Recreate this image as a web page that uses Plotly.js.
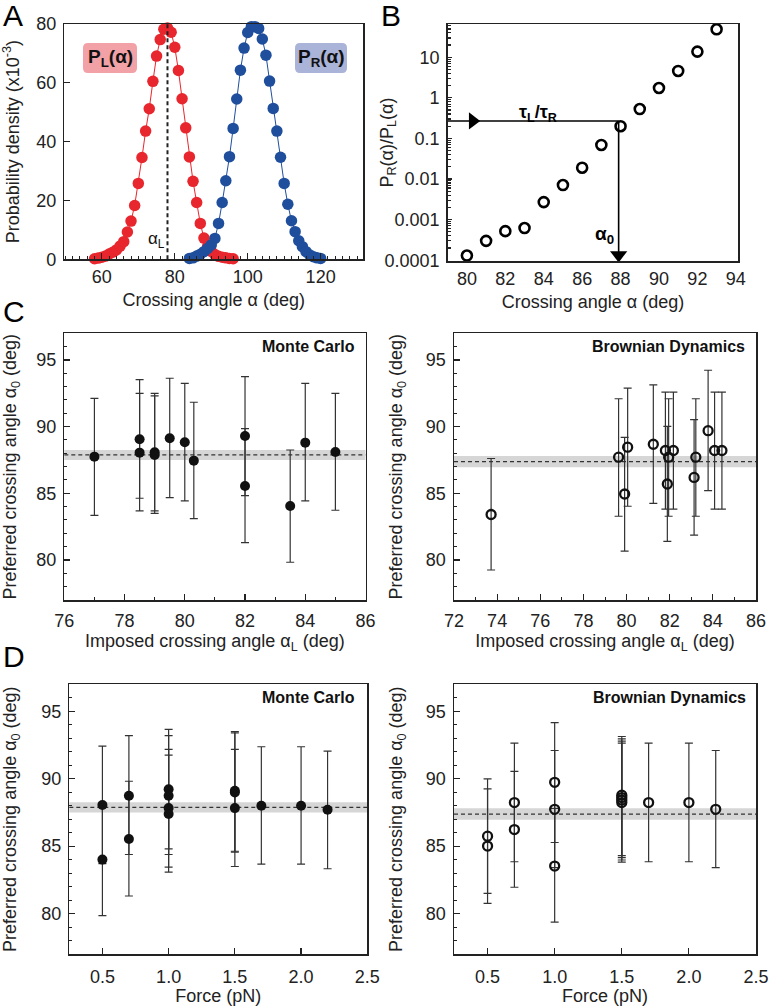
<!DOCTYPE html>
<html>
<head>
<meta charset="utf-8">
<script src="https://cdn.plot.ly/plotly-3.0.1.min.js"></script>
<style>html,body{margin:0;padding:0;background:#fff;}#chart{width:769px;height:1006px;}</style>
</head>
<body>
<div id="chart"></div>
<script>
// ---------- Panel A : probability densities (x10^-3) ----------
const redAngle  = [58,59,60,61,62,63,64,65,66,67,68,69,70,71,72,73,74,75,76,77,78,79,80,81,82,83,84,85,86,87,88,89,90,91,92,93,94,95,96];
const redDens   = [0.2,0.4,0.7,1.1,1.8,2.4,3.2,4.5,6.0,9.3,13.0,18.3,25.8,34.6,43.6,51.2,60.5,69.1,74.7,78.2,78.6,77.2,72.1,64.2,54.6,44.7,34.8,26.5,19.3,12.2,7.2,4.3,2.7,1.6,1.0,0.7,0.5,0.3,0.2];
const blueAngle = [84,85,86,87,88,89,90,91,92,93,94,95,96,97,98,99,100,101,102,103,104,105,106,107,108,109,110,111,112,113,114,115,116,117,118,119,120];
const blueDens  = [0.3,0.5,1.1,1.7,2.6,3.7,4.9,7.1,12.2,19.3,26.7,34.9,44.5,54.5,64.3,71.8,77.1,79.1,79.1,78.5,74.9,69.4,60.6,51.3,43.6,34.7,25.8,18.7,13.1,9.4,6.3,4.3,2.6,1.5,0.9,0.5,0.3];
const alphaL = 78;

// ---------- Panel B : ratio P_R/P_L ----------
const ratioAngle = [80,81,82,83,84,85,86,87,88,89,90,91,92,93];
const ratioValue = [0.00013,0.0003,0.00052,0.00062,0.0027,0.0071,0.019,0.069,0.2,0.53,1.75,4.6,13.8,49];
const tauRatio = 0.27;
const alpha0 = 87.9;
const bTickVals = [0.0001,0.001,0.01,0.1,1,10];
const bTickText = ['0.0001','0.001','0.01','0.1','1','10'];

// ---------- Panel C left : Monte Carlo vs imposed angle ----------
const cMC_x  = [77.0,78.5,78.5,79.0,79.0,79.5,80.0,80.3,82.0,82.0,83.5,84.0,85.0];
const cMC_y  = [87.75,89.05,88.05,88.08,87.88,89.13,88.83,87.45,89.3,85.55,84.05,88.8,88.1];
const cMC_hi = [92.12,93.53,92.5,92.5,92.3,93.63,93.25,91.83,93.75,89.85,88.25,93.25,92.5];
const cMC_lo = [83.35,84.63,83.68,83.68,83.5,84.68,84.43,83.1,84.83,81.3,79.83,84.43,83.73];

// ---------- Panel C right : Brownian Dynamics vs imposed angle ----------
const cBD_x  = [73.72,79.63,79.91,80.05,81.24,81.8,81.89,81.95,82.17,83.13,83.21,83.78,84.08,84.42];
const cBD_y  = [83.41,87.71,84.95,88.46,88.68,88.21,85.7,87.71,88.21,86.19,87.71,89.7,88.21,88.21];
const cBD_hi = [87.61,92.09,89.2,92.89,93.13,92.59,90.02,92.09,92.59,90.52,92.09,94.23,92.59,92.59];
const cBD_lo = [79.25,83.28,80.67,84.03,84.25,83.81,81.39,83.28,83.81,81.87,83.28,85.2,83.81,83.81];

// ---------- Panel D left : Monte Carlo vs force ----------
const dMC_x  = [0.5,0.5,0.7,0.7,1.0,1.0,1.0,1.0,1.5,1.5,1.5,1.7,2.0,2.2];
const dMC_y  = [88.05,84.0,88.73,85.53,89.22,88.73,87.82,87.38,89.1,88.98,87.82,87.99,87.99,87.7];
const dMC_hi = [92.42,88.2,93.2,89.81,93.65,93.2,92.17,91.75,93.5,93.4,92.17,92.37,92.37,92.05];
const dMC_lo = [83.7,79.85,84.38,81.3,84.8,84.38,83.44,83.07,84.62,84.55,83.49,83.66,83.66,83.32];

// ---------- Panel D right : Brownian Dynamics vs force ----------
const dBD_x  = [0.5,0.5,0.7,0.7,1.0,1.0,1.0,1.5,1.5,1.5,1.5,1.7,2.0,2.2];
const dBD_y  = [85.74,85.0,88.23,86.23,89.73,87.73,83.52,88.78,88.6,88.42,88.23,88.23,88.23,87.73];
const dBD_hi = [89.98,89.24,92.64,90.54,94.16,92.09,87.8,93.13,92.96,92.78,92.64,92.64,92.64,92.09];
const dBD_lo = [81.5,80.76,83.84,81.95,85.27,83.4,79.36,84.3,84.14,83.97,83.82,83.84,83.84,83.4];

// mean preferred angle and its uncertainty band
const mcMean = 87.88, mcBand = [87.5, 88.25];
const bdMean = 87.38, bdBand = [86.95, 87.8];

// ---------- build ----------
const FONT = 'Liberation Sans, Arial, Helvetica, sans-serif';
const INK = '#222';
const W = 769, H = 1006;
const px = v => v / W;
const py = v => 1 - v / H;

function errTrace(x, y, hi, lo, xa, ya, open) {
  return {
    type: 'scatter', mode: 'markers', x: x, y: y, xaxis: xa, yaxis: ya,
    cliponaxis: false, showlegend: false,
    marker: open
      ? {symbol: 'circle-open', size: 9, color: '#111', line: {width: 2.3, color: '#111'}}
      : {symbol: 'circle', size: 10, color: '#111'},
    error_y: {
      type: 'data', symmetric: false,
      array: hi.map((h, i) => h - y[i]),
      arrayminus: lo.map((l, i) => y[i] - l),
      color: '#333', thickness: 1.2, width: 4
    }
  };
}

const traces = [
  {type:'scatter', mode:'lines+markers', x: redAngle, y: redDens, xaxis:'x', yaxis:'y',
   line:{color:'#e8262d', width:1}, marker:{color:'#e8262d', size:11.5}, cliponaxis:false, showlegend:false},
  {type:'scatter', mode:'lines+markers', x: blueAngle, y: blueDens, xaxis:'x', yaxis:'y',
   line:{color:'#1f4e9c', width:1}, marker:{color:'#1f4e9c', size:11.5}, cliponaxis:false, showlegend:false},
  {type:'scatter', mode:'lines', x:[alphaL, alphaL], y:[0, 80], xaxis:'x', yaxis:'y',
   line:{color:'#222', width:2, dash:'4px,3px'}, showlegend:false},
  // panel B
  {type:'scatter', mode:'markers', x: ratioAngle, y: ratioValue, xaxis:'x2', yaxis:'y2',
   marker:{symbol:'circle-open', size:10, color:'#000', line:{width:2.6, color:'#000'}}, cliponaxis:false, showlegend:false},
  {type:'scatter', mode:'lines', x:[79, alpha0], y:[tauRatio, tauRatio], xaxis:'x2', yaxis:'y2',
   line:{color:'#000', width:1.6}, showlegend:false},
  {type:'scatter', mode:'lines', x:[alpha0, alpha0], y:[tauRatio, 0.0001], xaxis:'x2', yaxis:'y2',
   line:{color:'#000', width:1.6}, showlegend:false},
  {type:'scatter', mode:'markers', x:[80.3], y:[tauRatio], xaxis:'x2', yaxis:'y2',
   marker:{symbol:'triangle-right', size:15, color:'#000'}, showlegend:false},
  {type:'scatter', mode:'markers', x:[alpha0], y:[0.000135], xaxis:'x2', yaxis:'y2',
   marker:{symbol:'triangle-down', size:15, color:'#000'}, cliponaxis:false, showlegend:false},
  errTrace(cMC_x, cMC_y, cMC_hi, cMC_lo, 'x3', 'y3', false),
  errTrace(cBD_x, cBD_y, cBD_hi, cBD_lo, 'x4', 'y4', true),
  errTrace(dMC_x, dMC_y, dMC_hi, dMC_lo, 'x5', 'y5', false),
  errTrace(dBD_x, dBD_y, dBD_hi, dBD_lo, 'x6', 'y6', true)
];

function ax(extra) {
  return Object.assign({
    showline: true, mirror: true, linecolor: INK, linewidth: 1.5,
    ticks: 'inside', ticklen: 6, tickwidth: 1.2, tickcolor: INK,
    showgrid: false, zeroline: false,
    tickfont: {family: FONT, size: 18, color: INK},
  }, extra);
}
function ttl(text, standoff) {
  return {text: text, standoff: standoff, font: {family: FONT, size: 18, color: INK}};
}
const minor1 = {ticks:'inside', ticklen:3, tickwidth:1, tickcolor:INK};

const bMinor = [];
for (let e = -4; e <= 1; e++) for (let m = 2; m <= 9; m++) bMinor.push(m * Math.pow(10, e));

const yCD = (anchor, dom, standoff) => ax({anchor: anchor, domain: dom, range: [77, 97], dtick: 5, tick0: 80,
  minor: Object.assign({dtick: 1}, minor1), ticklabelstandoff: 3,
  title: ttl('Preferred crossing angle α<sub>0</sub> (deg)', standoff)});

// rounded label boxes (paper coords, from pixel extents)
function roundBox(x0, y0, x1, y1, r, color) {
  const X = v => px(v), Y = v => py(v);
  const p = `M ${X(x0 + r)} ${Y(y0)} L ${X(x1 - r)} ${Y(y0)} Q ${X(x1)} ${Y(y0)} ${X(x1)} ${Y(y0 + r)} ` +
            `L ${X(x1)} ${Y(y1 - r)} Q ${X(x1)} ${Y(y1)} ${X(x1 - r)} ${Y(y1)} ` +
            `L ${X(x0 + r)} ${Y(y1)} Q ${X(x0)} ${Y(y1)} ${X(x0)} ${Y(y1 - r)} ` +
            `L ${X(x0)} ${Y(y0 + r)} Q ${X(x0)} ${Y(y0)} ${X(x0 + r)} ${Y(y0)} Z`;
  return {type:'path', xref:'paper', yref:'paper', path:p, fillcolor:color, line:{width:0}, layer:'below'};
}

const layout = {
  width: W, height: H, margin: {l: 0, r: 0, t: 0, b: 0},
  paper_bgcolor: '#fff', plot_bgcolor: 'rgba(0,0,0,0)',
  font: {family: FONT, color: INK},
  showlegend: false,
  xaxis: ax({anchor:'y', domain:[px(64.3), px(363.3)], range:[49.7, 131.7], dtick:20, tick0:0,
    minor: Object.assign({dtick:2}, minor1), ticklabelstandoff: 1,
    title: ttl('Crossing angle α (deg)', 7)}),
  yaxis: ax({anchor:'x', domain:[py(259.3), py(24)], range:[0, 80], dtick:20, ticklabelstandoff: 3,
    title: ttl('Probability density (x10<sup>-3</sup>)', 18)}),
  xaxis2: ax({anchor:'y2', domain:[px(447.7), px(738.3)], range:[79, 94.13], dtick:2, tick0:0, ticks:'', ticklabelstandoff: 1,
    title: ttl('Crossing angle α (deg)', 7)}),
  yaxis2: ax({anchor:'x2', domain:[py(261), py(24)], type:'log', range:[-4.02, 1.82],
    tickmode:'array', tickvals: bTickVals, ticktext: bTickText, ticklen: 4, ticklabelstandoff: 3,
    minor: {tickmode:'array', tickvals: bMinor, ticks:'inside', ticklen:3, tickcolor:INK}}),
  xaxis3: ax({anchor:'y3', domain:[px(64.3), px(365.5)], range:[76, 86], dtick:2, tick0:0,
    minor: Object.assign({dtick:1}, minor1), ticklabelstandoff: 4,
    title: ttl('Imposed crossing angle α<sub>L</sub> (deg)', 4)}),
  yaxis3: yCD('x3', [py(600), py(333.3)], 18),
  xaxis4: ax({anchor:'y4', domain:[px(454), px(756)], range:[72, 86], dtick:2, tick0:0,
    minor: Object.assign({dtick:1}, minor1), ticklabelstandoff: 4,
    title: ttl('Imposed crossing angle α<sub>L</sub> (deg)', 4)}),
  yaxis4: yCD('x4', [py(600), py(333.3)], 18),
  xaxis5: ax({anchor:'y5', domain:[px(69.3), px(367.3)], range:[0.25, 2.5], dtick:0.5, tick0:0.5, tickformat:'.1f',
    ticklabelstandoff: 6, title: ttl('Force (pN)', 6)}),
  yaxis5: yCD('x5', [py(954), py(684.3)], 22),
  xaxis6: ax({anchor:'y6', domain:[px(454), px(756)], range:[0.25, 2.5], dtick:0.5, tick0:0.5, tickformat:'.1f',
    ticklabelstandoff: 6, title: ttl('Force (pN)', 6)}),
  yaxis6: yCD('x6', [py(954), py(684.3)], 18),
  shapes: [
    roundBox(83, 43, 137, 73, 5, '#f2a2a7'),
    roundBox(295, 43, 347, 73, 5, '#aab3d8'),
    {type:'rect', xref:'x3 domain', x0:0, x1:1, yref:'y3', y0:mcBand[0], y1:mcBand[1], fillcolor:'#d6d6d6', line:{width:0}, layer:'below'},
    {type:'line', xref:'x3 domain', x0:0, x1:1, yref:'y3', y0:mcMean, y1:mcMean, line:{color:'#333', width:1.2, dash:'4px,3px'}, layer:'below'},
    {type:'rect', xref:'x4 domain', x0:0, x1:1, yref:'y4', y0:bdBand[0], y1:bdBand[1], fillcolor:'#d6d6d6', line:{width:0}, layer:'below'},
    {type:'line', xref:'x4 domain', x0:0, x1:1, yref:'y4', y0:bdMean, y1:bdMean, line:{color:'#333', width:1.2, dash:'4px,3px'}, layer:'below'},
    {type:'rect', xref:'x5 domain', x0:0, x1:1, yref:'y5', y0:mcBand[0], y1:mcBand[1], fillcolor:'#d6d6d6', line:{width:0}, layer:'below'},
    {type:'line', xref:'x5 domain', x0:0, x1:1, yref:'y5', y0:mcMean, y1:mcMean, line:{color:'#333', width:1.2, dash:'4px,3px'}, layer:'below'},
    {type:'rect', xref:'x6 domain', x0:0, x1:1, yref:'y6', y0:bdBand[0], y1:bdBand[1], fillcolor:'#d6d6d6', line:{width:0}, layer:'below'},
    {type:'line', xref:'x6 domain', x0:0, x1:1, yref:'y6', y0:bdMean, y1:bdMean, line:{color:'#333', width:1.2, dash:'4px,3px'}, layer:'below'}
  ],
  annotations: [
    {text:'A', xref:'paper', yref:'paper', x:px(1), y:py(16), xanchor:'left', yanchor:'middle', showarrow:false, font:{family:FONT, size:30, color:'#000'}},
    {text:'B', xref:'paper', yref:'paper', x:px(379), y:py(16), xanchor:'left', yanchor:'middle', showarrow:false, font:{family:FONT, size:30, color:'#000'}},
    {text:'C', xref:'paper', yref:'paper', x:px(1), y:py(311), xanchor:'left', yanchor:'middle', showarrow:false, font:{family:FONT, size:30, color:'#000'}},
    {text:'D', xref:'paper', yref:'paper', x:px(1), y:py(656), xanchor:'left', yanchor:'middle', showarrow:false, font:{family:FONT, size:30, color:'#000'}},
    {text:'P<sub>R</sub>(α)/P<sub>L</sub>(α)', xref:'paper', yref:'paper', x:px(388), y:py(142.5), xanchor:'center', yanchor:'middle',
     textangle:-90, showarrow:false, font:{family:FONT, size:18, color:INK}},
    {text:'<b>P<sub>L</sub>(α)</b>', xref:'paper', yref:'paper', x:px(110), y:py(58), xanchor:'center', yanchor:'middle', showarrow:false,
     font:{family:FONT, size:19, color:'#111'}},
    {text:'<b>P<sub>R</sub>(α)</b>', xref:'paper', yref:'paper', x:px(321), y:py(58), xanchor:'center', yanchor:'middle', showarrow:false,
     font:{family:FONT, size:19, color:'#111'}},
    {text:'α<sub>L</sub>', xref:'paper', yref:'paper', x:px(167), y:py(240), xanchor:'right', yanchor:'middle', showarrow:false,
     font:{family:FONT, size:17, color:'#111'}},
    {text:'<b>τ<sub>L</sub>/τ<sub>R</sub></b>', xref:'paper', yref:'paper', x:px(538), y:py(113), xanchor:'center', yanchor:'middle', showarrow:false,
     font:{family:FONT, size:18, color:'#000'}},
    {text:'<b>α<sub>0</sub></b>', xref:'paper', yref:'paper', x:px(604), y:py(235), xanchor:'center', yanchor:'middle', showarrow:false,
     font:{family:FONT, size:19, color:'#000'}},
    {text:'<b>Monte Carlo</b>', xref:'paper', yref:'paper', x:px(357), y:py(346), xanchor:'right', yanchor:'middle', showarrow:false,
     font:{family:FONT, size:16, color:'#111'}},
    {text:'<b>Brownian Dynamics</b>', xref:'paper', yref:'paper', x:px(747), y:py(346), xanchor:'right', yanchor:'middle', showarrow:false,
     font:{family:FONT, size:16, color:'#111'}},
    {text:'<b>Monte Carlo</b>', xref:'paper', yref:'paper', x:px(357), y:py(697), xanchor:'right', yanchor:'middle', showarrow:false,
     font:{family:FONT, size:16, color:'#111'}},
    {text:'<b>Brownian Dynamics</b>', xref:'paper', yref:'paper', x:px(748), y:py(697), xanchor:'right', yanchor:'middle', showarrow:false,
     font:{family:FONT, size:16, color:'#111'}}
  ]
};

Plotly.newPlot('chart', traces, layout, {staticPlot: true, displayModeBar: false});
</script>
</body>
</html>
